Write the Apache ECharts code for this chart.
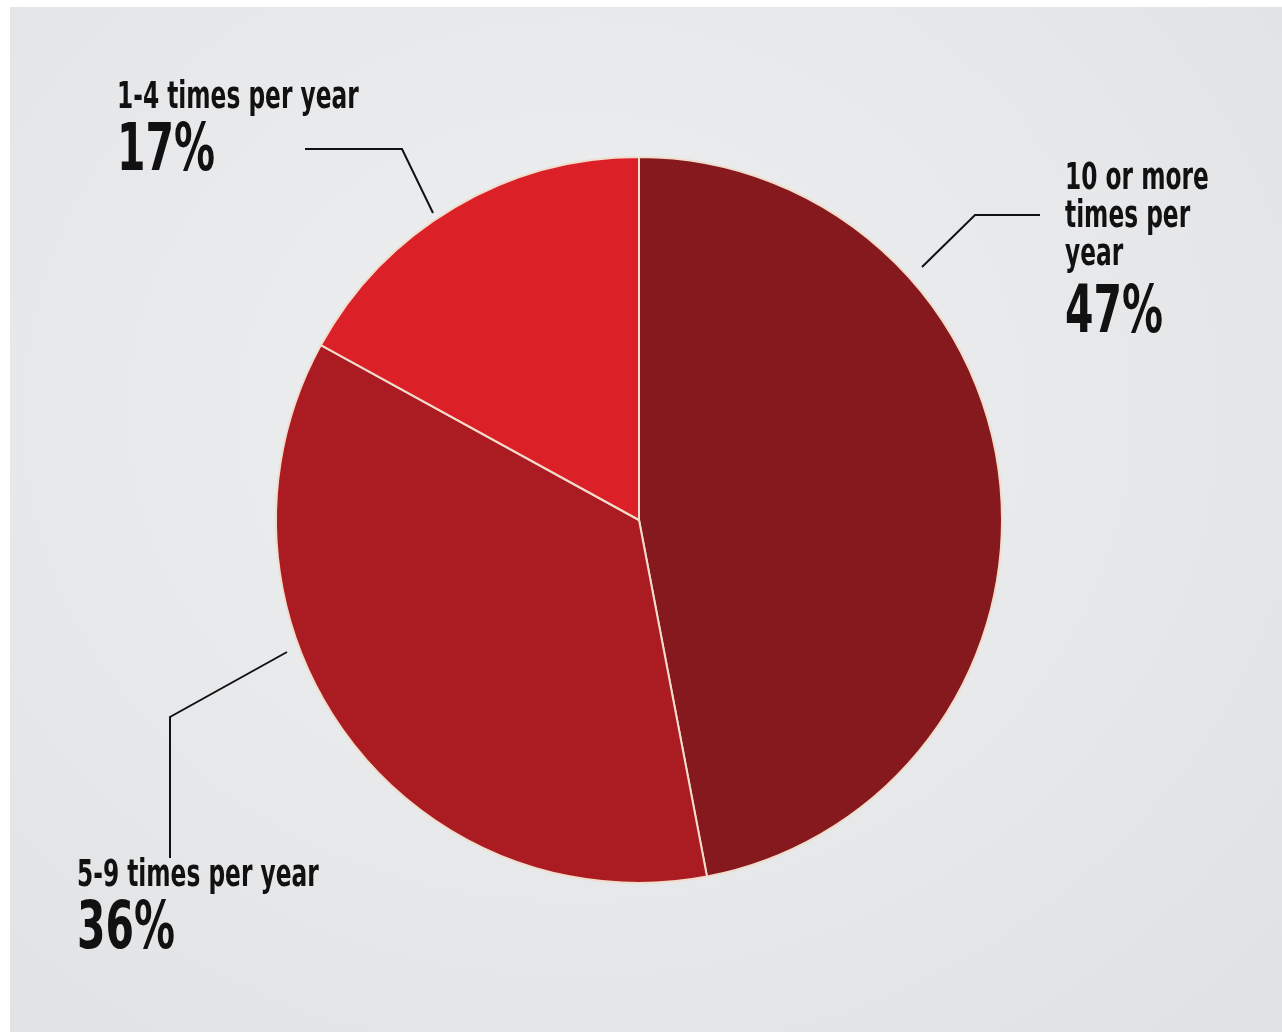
<!DOCTYPE html>
<html>
<head>
<meta charset="utf-8">
<script src="https://cdn.jsdelivr.net/npm/echarts@6/dist/echarts.min.js"></script>
<style>
  html, body { margin: 0; padding: 0; background: #ffffff; }
  #chart {
    position: absolute; left: 0; top: 0; width: 1282px; height: 1032px;
    background: radial-gradient(ellipse at 45% 40%, #eeeff0 0%, #e7e8ea 55%, #e0e1e3 100%);
    box-shadow: inset 10px 7px 0 #ffffff;
  }
</style>
</head>
<body>
<div id="chart"></div>
<script>
// ---- data ----
const categories = ['10 or more\ntimes per\nyear', '5-9 times per year', '1-4 times per year'];
const values = [47, 36, 17];

// ---- styles / layout (not data) ----
const sliceColors = ['#85191d', '#ab1c22', '#dc2027'];
// left x, top of name block, top of percentage
const labelPos = [
  { x: 1065, nameY: 160, pctY: 283 },
  { x: 77, nameY: 857, pctY: 899 },
  { x: 117, nameY: 79, pctY: 121 }
];
const leaderLines = [
  [[922, 267], [975, 215], [1040, 215]],
  [[287, 652], [170, 717], [170, 858]],
  [[433, 213], [402, 149], [305, 149]]
];
const fontFam = '"DejaVu Sans Condensed", "DejaVu Sans", sans-serif';
const squeeze = 0.7;

const chart = echarts.init(document.getElementById('chart'), null, { renderer: 'canvas' });

const graphics = [];
categories.forEach(function (c, i) {
  graphics.push({
    type: 'polyline',
    shape: { points: leaderLines[i] },
    style: { stroke: '#111111', lineWidth: 2, fill: null },
    silent: true
  });
  graphics.push({
    type: 'text',
    x: labelPos[i].x, y: labelPos[i].nameY,
    scaleX: squeeze,
    style: {
      text: c,
      fill: '#111111',
      font: 'bold 37px ' + fontFam,
      lineHeight: 38,
      textVerticalAlign: 'top',
      textAlign: 'left'
    },
    silent: true
  });
  graphics.push({
    type: 'text',
    x: labelPos[i].x, y: labelPos[i].pctY,
    scaleX: squeeze,
    style: {
      text: values[i] + '%',
      fill: '#111111',
      font: 'bold 65px ' + fontFam,
      textVerticalAlign: 'top',
      textAlign: 'left'
    },
    silent: true
  });
});

chart.setOption({
  backgroundColor: 'transparent',
  animation: false,
  graphic: graphics,
  series: [{
    type: 'pie',
    center: [639, 520],
    radius: 363,
    startAngle: 90,
    clockwise: true,
    itemStyle: { borderColor: '#f2dccb', borderWidth: 2 },
    label: { show: false },
    labelLine: { show: false },
    emphasis: { disabled: true },
    data: categories.map(function (c, i) {
      return { name: c, value: values[i], itemStyle: { color: sliceColors[i] } };
    })
  }]
});
</script>
</body>
</html>
